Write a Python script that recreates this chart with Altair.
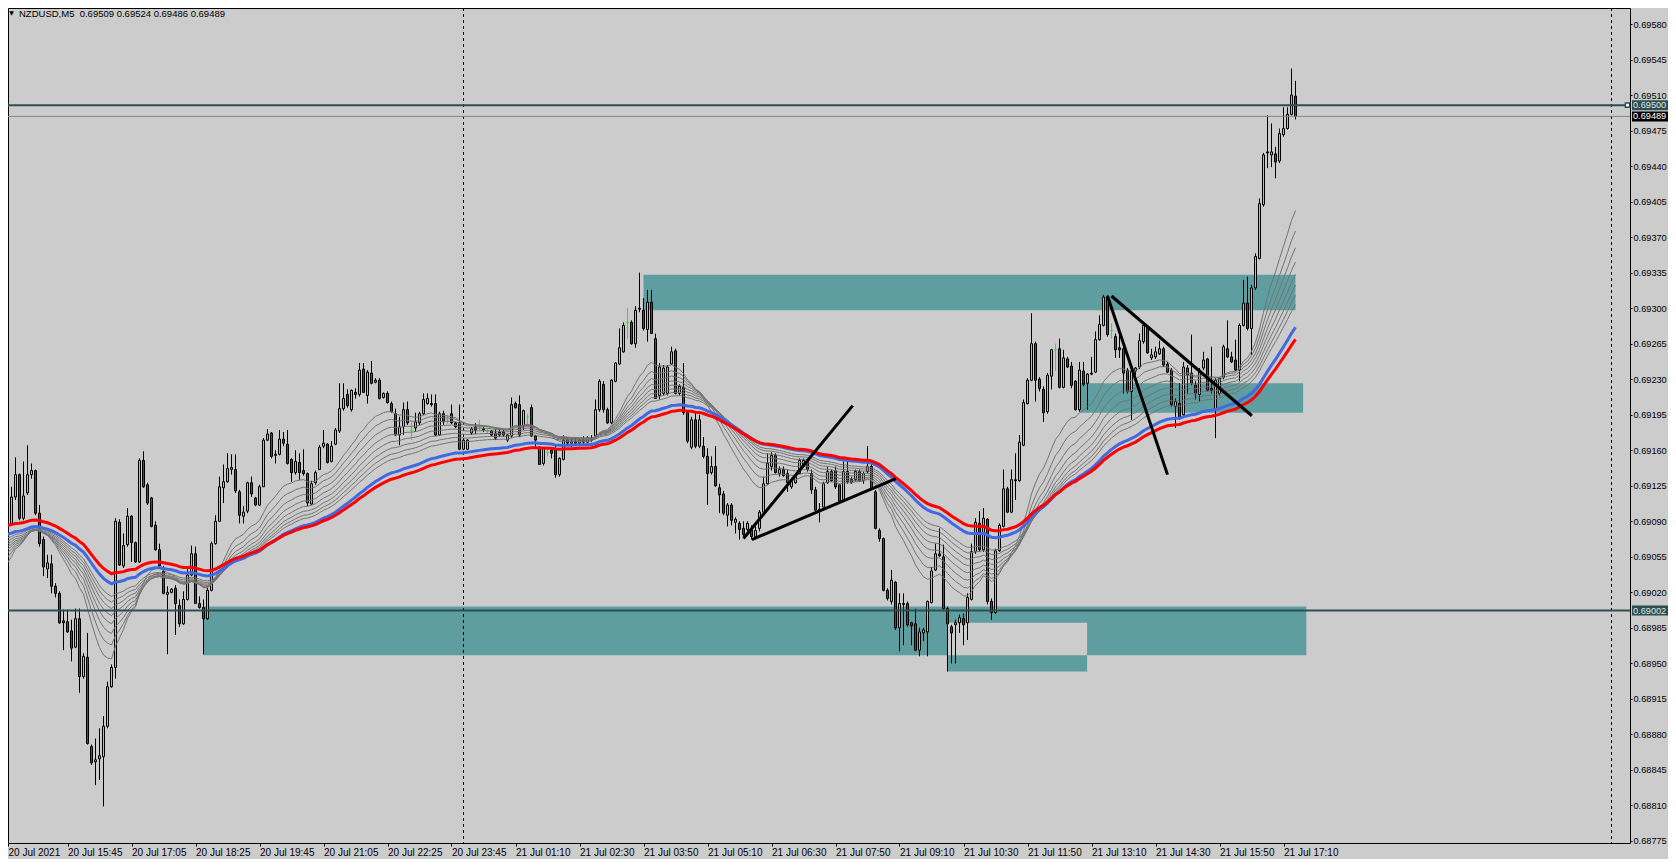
import json
import altair as alt
import pandas as pd

# ---------------- data ----------------
opens = [
0.69026,0.69055,0.69088,0.69114,0.69136,0.69093,0.69118,0.69136,0.69140,0.69098,
0.69072,0.69043,0.69048,0.69026,0.69019,0.68992,0.68991,0.68982,0.68966,0.68994,
0.68937,0.68956,0.68868,0.68853,0.68856,0.68858,0.68888,0.68927,0.68946,0.69089,
0.69046,0.69067,0.69095,0.69069,0.69050,0.69150,0.69126,0.69113,0.69086,0.69062,
0.69041,0.69018,0.69020,0.69024,0.69007,0.68989,0.69013,0.69037,0.69058,0.69009,
0.69005,0.68994,0.69022,0.69068,0.69090,0.69123,0.69129,0.69141,0.69141,0.69119,
0.69095,0.69100,0.69128,0.69113,0.69106,0.69124,0.69170,0.69177,0.69155,0.69156,
0.69171,0.69166,0.69151,0.69138,0.69148,0.69140,0.69137,0.69107,0.69128,0.69141,
0.69164,0.69166,0.69149,0.69166,0.69179,0.69201,0.69215,0.69200,0.69217,0.69215,
0.69240,0.69214,0.69236,0.69227,0.69229,0.69212,0.69216,0.69206,0.69196,0.69175,
0.69183,0.69200,0.69180,0.69182,0.69187,0.69196,0.69206,0.69206,0.69206,0.69175,
0.69196,0.69189,0.69196,0.69187,0.69187,0.69161,0.69161,0.69177,0.69183,0.69182,
0.69181,0.69179,0.69179,0.69177,0.69178,0.69178,0.69170,0.69174,0.69206,0.69205,
0.69184,0.69193,0.69202,0.69174,0.69163,0.69147,0.69158,0.69160,0.69161,0.69136,
0.69151,0.69171,0.69167,0.69169,0.69167,0.69170,0.69168,0.69172,0.69174,0.69200,
0.69225,0.69200,0.69187,0.69228,0.69245,0.69257,0.69286,0.69286,0.69265,0.69300,
0.69298,0.69279,0.69306,0.69270,0.69214,0.69216,0.69216,0.69245,0.69258,0.69216,
0.69222,0.69197,0.69163,0.69190,0.69164,0.69164,0.69154,0.69138,0.69144,0.69123,
0.69117,0.69096,0.69106,0.69089,0.69088,0.69083,0.69082,0.69082,0.69075,0.69083,
0.69099,0.69127,0.69144,0.69155,0.69137,0.69141,0.69137,0.69124,0.69128,0.69137,
0.69144,0.69149,0.69137,0.69121,0.69101,0.69104,0.69128,0.69139,0.69140,0.69126,
0.69111,0.69139,0.69131,0.69131,0.69139,0.69130,0.69139,0.69144,0.69119,0.69081,
0.69073,0.69022,0.69011,0.69030,0.68985,0.69009,0.69009,0.68990,0.68989,0.68963,
0.68980,0.68981,0.69010,0.69042,0.69058,0.69055,0.69004,0.68986,0.68988,0.68990,
0.68994,0.68990,0.69013,0.69060,0.69088,0.69062,0.69092,0.69011,0.69000,0.69061,
0.69085,0.69122,0.69099,0.69131,0.69130,0.69165,0.69206,0.69229,0.69265,0.69230,
0.69220,0.69198,0.69233,0.69259,0.69260,0.69222,0.69250,0.69243,0.69228,0.69200,
0.69238,0.69226,0.69236,0.69237,0.69269,0.69283,0.69311,0.69278,0.69272,0.69261,
0.69260,0.69239,0.69218,0.69238,0.69242,0.69267,0.69280,0.69251,0.69252,0.69255,
0.69260,0.69245,0.69239,0.69203,0.69206,0.69195,0.69241,0.69236,0.69224,0.69215,
0.69241,0.69250,0.69221,0.69200,0.69216,0.69232,0.69260,0.69252,0.69249,0.69239,
0.69283,0.69305,0.69280,0.69320,0.69349,0.69402,0.69454,0.69451,0.69452,0.69445,
0.69471,0.69477,0.69491,0.69509]

highs = [
0.69054,0.69095,0.69124,0.69153,0.69137,0.69149,0.69165,0.69147,0.69141,0.69106,
0.69075,0.69057,0.69057,0.69029,0.69021,0.69003,0.69003,0.68993,0.69004,0.69004,
0.68960,0.68980,0.68870,0.68876,0.68886,0.68898,0.68932,0.68949,0.69093,0.69092,
0.69078,0.69103,0.69096,0.69070,0.69152,0.69159,0.69128,0.69114,0.69090,0.69068,
0.69046,0.69026,0.69024,0.69027,0.69013,0.69021,0.69045,0.69066,0.69065,0.69016,
0.69013,0.69026,0.69070,0.69096,0.69134,0.69146,0.69157,0.69156,0.69156,0.69121,
0.69105,0.69129,0.69134,0.69114,0.69126,0.69172,0.69181,0.69178,0.69160,0.69180,
0.69178,0.69180,0.69152,0.69160,0.69157,0.69161,0.69138,0.69130,0.69140,0.69165,
0.69180,0.69167,0.69169,0.69182,0.69226,0.69226,0.69220,0.69220,0.69221,0.69246,
0.69246,0.69239,0.69248,0.69231,0.69231,0.69217,0.69218,0.69208,0.69201,0.69193,
0.69207,0.69208,0.69188,0.69197,0.69198,0.69216,0.69216,0.69215,0.69215,0.69198,
0.69199,0.69195,0.69205,0.69188,0.69205,0.69172,0.69171,0.69183,0.69187,0.69190,
0.69183,0.69181,0.69180,0.69181,0.69182,0.69180,0.69176,0.69212,0.69208,0.69214,
0.69200,0.69196,0.69205,0.69175,0.69164,0.69163,0.69160,0.69163,0.69165,0.69153,
0.69175,0.69173,0.69172,0.69173,0.69172,0.69174,0.69174,0.69175,0.69210,0.69230,
0.69228,0.69202,0.69230,0.69247,0.69280,0.69286,0.69300,0.69288,0.69302,0.69335,
0.69310,0.69318,0.69318,0.69275,0.69246,0.69244,0.69244,0.69262,0.69260,0.69225,
0.69246,0.69198,0.69193,0.69197,0.69195,0.69173,0.69162,0.69154,0.69164,0.69127,
0.69120,0.69108,0.69108,0.69094,0.69090,0.69090,0.69090,0.69086,0.69085,0.69101,
0.69134,0.69157,0.69158,0.69157,0.69144,0.69144,0.69141,0.69133,0.69137,0.69152,
0.69152,0.69152,0.69141,0.69124,0.69108,0.69129,0.69144,0.69141,0.69144,0.69127,
0.69149,0.69149,0.69134,0.69141,0.69141,0.69139,0.69164,0.69147,0.69121,0.69083,
0.69074,0.69024,0.69042,0.69031,0.69019,0.69019,0.69011,0.68991,0.69004,0.68985,
0.68985,0.69012,0.69045,0.69068,0.69083,0.69067,0.69006,0.68988,0.68993,0.68998,
0.68999,0.69019,0.69068,0.69093,0.69100,0.69103,0.69093,0.69014,0.69063,0.69088,
0.69141,0.69124,0.69141,0.69157,0.69175,0.69210,0.69231,0.69295,0.69267,0.69232,
0.69223,0.69236,0.69260,0.69265,0.69270,0.69259,0.69252,0.69247,0.69229,0.69247,
0.69247,0.69236,0.69252,0.69277,0.69293,0.69313,0.69313,0.69285,0.69275,0.69275,
0.69262,0.69241,0.69241,0.69242,0.69275,0.69285,0.69283,0.69260,0.69262,0.69268,
0.69262,0.69247,0.69241,0.69211,0.69226,0.69247,0.69244,0.69274,0.69228,0.69241,
0.69257,0.69251,0.69262,0.69231,0.69232,0.69264,0.69288,0.69257,0.69269,0.69285,
0.69328,0.69331,0.69323,0.69354,0.69408,0.69453,0.69490,0.69482,0.69459,0.69477,
0.69498,0.69498,0.69536,0.69524]

lows = [
0.69016,0.69052,0.69087,0.69111,0.69091,0.69091,0.69116,0.69132,0.69096,0.69065,
0.69036,0.69034,0.69019,0.69015,0.68989,0.68963,0.68980,0.68952,0.68965,0.68921,
0.68935,0.68870,0.68850,0.68830,0.68835,0.68809,0.68886,0.68926,0.68935,0.69046,
0.69044,0.69065,0.69050,0.69049,0.69049,0.69123,0.69106,0.69084,0.69061,0.69044,
0.69018,0.68959,0.69019,0.68978,0.68986,0.68988,0.69012,0.69036,0.69009,0.69004,
0.68959,0.68993,0.69021,0.69067,0.69090,0.69108,0.69128,0.69136,0.69118,0.69088,
0.69088,0.69098,0.69114,0.69105,0.69105,0.69124,0.69169,0.69152,0.69147,0.69155,
0.69164,0.69146,0.69129,0.69136,0.69131,0.69135,0.69105,0.69106,0.69126,0.69141,
0.69162,0.69147,0.69148,0.69165,0.69177,0.69199,0.69202,0.69198,0.69211,0.69213,
0.69217,0.69206,0.69225,0.69226,0.69210,0.69211,0.69206,0.69197,0.69174,0.69165,
0.69175,0.69185,0.69170,0.69178,0.69185,0.69195,0.69205,0.69203,0.69174,0.69174,
0.69185,0.69186,0.69186,0.69182,0.69160,0.69160,0.69160,0.69175,0.69176,0.69179,
0.69178,0.69176,0.69174,0.69170,0.69173,0.69173,0.69168,0.69172,0.69201,0.69173,
0.69180,0.69183,0.69173,0.69162,0.69146,0.69145,0.69154,0.69152,0.69133,0.69134,
0.69150,0.69165,0.69163,0.69165,0.69164,0.69166,0.69167,0.69168,0.69172,0.69198,
0.69197,0.69186,0.69186,0.69227,0.69244,0.69256,0.69270,0.69264,0.69261,0.69296,
0.69278,0.69267,0.69275,0.69211,0.69210,0.69214,0.69214,0.69244,0.69215,0.69214,
0.69195,0.69167,0.69161,0.69162,0.69162,0.69152,0.69106,0.69136,0.69124,0.69098,
0.69096,0.69085,0.69086,0.69078,0.69072,0.69075,0.69080,0.69072,0.69073,0.69080,
0.69097,0.69126,0.69140,0.69137,0.69134,0.69134,0.69119,0.69122,0.69127,0.69137,
0.69143,0.69139,0.69117,0.69100,0.69089,0.69104,0.69127,0.69129,0.69122,0.69109,
0.69110,0.69127,0.69127,0.69129,0.69129,0.69127,0.69137,0.69121,0.69082,0.69070,
0.69021,0.69012,0.69008,0.68983,0.68962,0.68968,0.68986,0.68968,0.68962,0.68957,
0.68972,0.68957,0.69009,0.69041,0.69055,0.69003,0.68942,0.68950,0.68950,0.68980,
0.68968,0.68973,0.69012,0.69058,0.69060,0.69060,0.69008,0.68993,0.68999,0.69060,
0.69084,0.69098,0.69098,0.69111,0.69129,0.69164,0.69205,0.69228,0.69208,0.69218,
0.69188,0.69196,0.69220,0.69238,0.69221,0.69221,0.69241,0.69221,0.69199,0.69198,
0.69223,0.69200,0.69234,0.69236,0.69268,0.69282,0.69272,0.69270,0.69251,0.69251,
0.69216,0.69216,0.69190,0.69234,0.69240,0.69265,0.69255,0.69249,0.69250,0.69254,
0.69242,0.69236,0.69203,0.69182,0.69190,0.69193,0.69216,0.69224,0.69210,0.69208,
0.69239,0.69218,0.69216,0.69172,0.69214,0.69230,0.69251,0.69246,0.69238,0.69228,
0.69282,0.69278,0.69254,0.69318,0.69348,0.69400,0.69438,0.69439,0.69428,0.69443,
0.69469,0.69476,0.69490,0.69486]

closes = [
0.69052,0.69087,0.69114,0.69136,0.69093,0.69115,0.69136,0.69140,0.69098,0.69068,
0.69045,0.69049,0.69026,0.69019,0.68990,0.68990,0.68981,0.68965,0.68994,0.68937,
0.68957,0.68871,0.68852,0.68855,0.68859,0.68888,0.68927,0.68946,0.69090,0.69047,
0.69066,0.69095,0.69069,0.69050,0.69150,0.69124,0.69108,0.69085,0.69062,0.69046,
0.69019,0.69020,0.69023,0.69009,0.68989,0.69013,0.69037,0.69058,0.69009,0.69005,
0.68994,0.69022,0.69068,0.69090,0.69124,0.69129,0.69142,0.69143,0.69120,0.69096,
0.69099,0.69128,0.69117,0.69106,0.69124,0.69170,0.69176,0.69154,0.69156,0.69171,
0.69167,0.69147,0.69138,0.69149,0.69138,0.69137,0.69108,0.69127,0.69138,0.69163,
0.69167,0.69148,0.69164,0.69180,0.69201,0.69211,0.69204,0.69219,0.69215,0.69239,
0.69217,0.69237,0.69226,0.69229,0.69211,0.69216,0.69207,0.69198,0.69175,0.69183,
0.69200,0.69187,0.69180,0.69188,0.69196,0.69210,0.69211,0.69205,0.69175,0.69196,
0.69188,0.69189,0.69187,0.69183,0.69161,0.69170,0.69170,0.69181,0.69180,0.69182,
0.69180,0.69179,0.69175,0.69172,0.69175,0.69175,0.69175,0.69205,0.69202,0.69175,
0.69199,0.69193,0.69174,0.69170,0.69146,0.69162,0.69158,0.69157,0.69136,0.69152,
0.69170,0.69167,0.69169,0.69167,0.69170,0.69168,0.69172,0.69170,0.69200,0.69228,
0.69200,0.69187,0.69229,0.69246,0.69261,0.69283,0.69286,0.69265,0.69298,0.69299,
0.69280,0.69306,0.69275,0.69211,0.69242,0.69241,0.69242,0.69257,0.69216,0.69223,
0.69197,0.69169,0.69190,0.69164,0.69190,0.69154,0.69137,0.69144,0.69125,0.69116,
0.69098,0.69106,0.69091,0.69092,0.69082,0.69077,0.69088,0.69075,0.69081,0.69099,
0.69127,0.69147,0.69155,0.69138,0.69141,0.69135,0.69128,0.69129,0.69134,0.69150,
0.69150,0.69141,0.69121,0.69101,0.69102,0.69127,0.69139,0.69130,0.69124,0.69110,
0.69139,0.69129,0.69128,0.69139,0.69130,0.69137,0.69144,0.69122,0.69083,0.69073,
0.69022,0.69014,0.69032,0.68985,0.69009,0.69008,0.68988,0.68987,0.68963,0.68981,
0.68983,0.69011,0.69041,0.69058,0.69056,0.69004,0.68989,0.68980,0.68990,0.68995,
0.68988,0.69015,0.69060,0.69089,0.69062,0.69093,0.69011,0.69000,0.69061,0.69086,
0.69122,0.69099,0.69131,0.69130,0.69168,0.69207,0.69229,0.69265,0.69229,0.69221,
0.69197,0.69234,0.69259,0.69259,0.69222,0.69251,0.69242,0.69224,0.69200,0.69239,
0.69225,0.69235,0.69235,0.69269,0.69284,0.69311,0.69274,0.69278,0.69259,0.69259,
0.69236,0.69218,0.69238,0.69241,0.69268,0.69283,0.69256,0.69254,0.69257,0.69260,
0.69244,0.69237,0.69205,0.69208,0.69193,0.69242,0.69234,0.69226,0.69216,0.69239,
0.69249,0.69219,0.69219,0.69229,0.69231,0.69262,0.69252,0.69247,0.69239,0.69283,
0.69305,0.69280,0.69320,0.69351,0.69403,0.69451,0.69453,0.69454,0.69444,0.69472,
0.69477,0.69491,0.69510,0.69489]

# x axis: bar index of each label (one bar = 5 minutes, labels every 16 bars)
x_tick_bars = [1.125, 16, 32, 48, 64, 80, 96, 112, 128, 144, 160, 176, 192, 208,
               224, 240, 256, 272, 288, 304, 320]
x_tick_labels = ["20 Jul 2021", "20 Jul 15:45", "20 Jul 17:05", "20 Jul 18:25",
                 "20 Jul 19:45", "20 Jul 21:05", "20 Jul 22:25", "20 Jul 23:45",
                 "21 Jul 01:10", "21 Jul 02:30", "21 Jul 03:50", "21 Jul 05:10",
                 "21 Jul 06:30", "21 Jul 07:50", "21 Jul 09:10", "21 Jul 10:30",
                 "21 Jul 11:50", "21 Jul 13:10", "21 Jul 14:30", "21 Jul 15:50",
                 "21 Jul 17:10"]
y_tick_values = [0.68775, 0.68810, 0.68845, 0.68880, 0.68915, 0.68950, 0.68985,
                 0.69020, 0.69055, 0.69090, 0.69125, 0.69160, 0.69195, 0.69230,
                 0.69265, 0.69300, 0.69335, 0.69370, 0.69405, 0.69440, 0.69475,
                 0.69510, 0.69545, 0.69580]

# moving averages (EMA of closes) and their values at the first visible bar
thin_periods = [20, 25, 30, 35, 40, 45, 50, 55]
thin_seeds = [0.69045, 0.69052, 0.69057, 0.69061, 0.69064, 0.69067, 0.69070, 0.69073]
blue_period, blue_seed = 70, 0.69077
red_period, red_seed = 80, 0.69086

# rectangles drawn on the chart (bar index range, price range)
box_bar_start = [50.0, 235.9, 160.0, 269.2]
box_bar_end = [325.7, 270.9, 323.0, 324.9]
box_price_low = [0.68958, 0.68942, 0.69298, 0.69197]
box_price_high = [0.69006, 0.68990, 0.69333, 0.69226]
# overlap of the two lower rectangles (shown in background colour)
gap_bar_start, gap_bar_end, gap_low, gap_high = 235.9, 270.9, 0.68958, 0.68990

# trend lines: id, bar, price
trend_id = ["a", "a", "b", "b", "c", "c", "d", "d"]
trend_bar = [185.0, 212.3, 187.1, 223.1, 277.0, 312.1, 276.0, 291.0]
trend_price = [0.69073, 0.69204, 0.69072, 0.69132, 0.69312, 0.69194, 0.69312, 0.69136]

hline_prices = [0.69500, 0.69002]
bid_price = 0.69489
separator_bars = [115, 402]
handle_bars = [0.5, 406.0]

line_tag_prices = [0.69500, 0.69002]
line_tag_texts = ["0.69500", "0.69002"]
bid_tag_texts = ["0.69489"]

title_text = "NZDUSD,M5\u00a0\u00a00.69509 0.69524 0.69486 0.69489"

# ---------------- build ----------------
n = len(closes)
assert len(opens) == n and len(highs) == n and len(lows) == n

BG = "#CCCCCC"
FONT = "Liberation Sans"
DSG = "#2F4F4F"

def direction(o, c):
    if abs(o - c) < 1e-9:
        return "doji"
    return "up" if c > o else "down"

candles = pd.DataFrame({
    "i": list(range(n)), "o": opens, "h": highs, "l": lows, "c": closes})
candles["h"] = candles[["h", "o", "c"]].max(axis=1)
candles["l"] = candles[["l", "o", "c"]].min(axis=1)
candles["top"] = candles[["o", "c"]].max(axis=1)
candles["bot"] = candles[["o", "c"]].min(axis=1)
candles["xl"] = candles["i"] - 0.25
candles["xr"] = candles["i"] + 0.25
candles["dir"] = [direction(o, c) for o, c in zip(opens, closes)]

def ema(period, seed):
    a = 2.0 / (period + 1)
    out = [seed]
    for c in closes[1:]:
        out.append(out[-1] + a * (c - out[-1]))
    return out

thin_rows = []
for p, s in zip(thin_periods, thin_seeds):
    for i, v in enumerate(ema(p, s)):
        thin_rows.append({"i": i, "v": v, "name": f"ema{p}"})
thin_df = pd.DataFrame(thin_rows)
blue_df = pd.DataFrame({"i": list(range(n)), "v": ema(blue_period, blue_seed)})
red_df = pd.DataFrame({"i": list(range(n)), "v": ema(red_period, red_seed)})

boxes = pd.DataFrame({"x1": box_bar_start, "x2": box_bar_end,
                      "y1": box_price_low, "y2": box_price_high})
gap = pd.DataFrame({"x1": [gap_bar_start], "x2": [gap_bar_end],
                    "y1": [gap_low], "y2": [gap_high]})
trends = pd.DataFrame({"id": trend_id, "i": trend_bar, "p": trend_price})
hlines = pd.DataFrame({"p": hline_prices})
bidline = pd.DataFrame({"p": [bid_price]})
seps = pd.DataFrame({"i": separator_bars})
handles = pd.DataFrame({"i": handle_bars, "p": [hline_prices[0]] * len(handle_bars)})

tag_half = 0.0000493
line_tags = pd.DataFrame({"p": line_tag_prices, "t": line_tag_texts})
bid_tags = pd.DataFrame({"p": [bid_price], "t": bid_tag_texts})
for df in (line_tags, bid_tags):
    df["p1"] = df["p"] - tag_half
    df["p2"] = df["p"] + tag_half

label_expr = ("datum.value < 8 ? " + json.dumps(x_tick_labels[0]) + " : "
              + json.dumps(x_tick_labels[1:]) + "[round(datum.value / 16) - 1]")

PLOT_W, PLOT_H = 1622, 835
RIGHT_PAD = 38
xs = alt.Scale(domain=[1.125, 1.125 + PLOT_W / 4.0], nice=False, zero=False)
ys = alt.Scale(domain=[0.687730, 0.695958], nice=False, zero=False)
xaxis = alt.Axis(values=x_tick_bars, labelExpr=label_expr, title="", grid=False,
                 domain=False, ticks=True, tickSize=3, tickColor="black",
                 labelFont=FONT, labelFontSize=10, labelColor="black",
                 labelAlign="left", labelBaseline="top", labelPadding=1,
                 labelOverlap=False, labelFlush=False)
yaxis = alt.Axis(orient="right", values=y_tick_values, format=".5f", title="",
                 grid=False, domain=False, tickSize=2, tickColor="black",
                 labelFont=FONT, labelFontSize=9.2, labelColor="black",
                 labelPadding=1, labelBaseline="middle", labelOverlap=False,
                 labelFlush=False)

def X(f):
    return alt.X(f, type="quantitative", scale=xs, axis=xaxis)

def Y(f):
    return alt.Y(f, type="quantitative", scale=ys, axis=yaxis)

box_layer = alt.Chart(boxes).mark_rect(color="#5F9EA0", clip=True).encode(
    x=X("x1"), x2="x2", y=Y("y1"), y2="y2")
gap_layer = alt.Chart(gap).mark_rect(color=BG, clip=True).encode(
    x=X("x1"), x2="x2", y=Y("y1"), y2="y2")

sep_layer = alt.Chart(seps).mark_rule(color="black", strokeWidth=1,
                                      strokeDash=[3, 3]).encode(x=X("i"))

dir_dom = ["up", "down", "doji"]
stroke_scale = alt.Scale(domain=dir_dom, range=["black", "black", "#00FF00"])
fill_scale = alt.Scale(domain=dir_dom, range=["#7CFC00", "#FF0000", "#00FF00"])

wick_layer = alt.Chart(candles).mark_rule(strokeWidth=1, clip=True).encode(
    x=X("i"), y=Y("l"), y2="h",
    stroke=alt.Stroke("dir:N", scale=stroke_scale, legend=None))
body_layer = alt.Chart(candles).mark_rect(strokeWidth=1, clip=True).encode(
    x=X("xl"), x2="xr", y=Y("bot"), y2="top",
    fill=alt.Fill("dir:N", scale=fill_scale, legend=None),
    stroke=alt.Stroke("dir:N", scale=stroke_scale, legend=None))

thin_layer = alt.Chart(thin_df).mark_line(color="#737373", strokeWidth=1,
                                          clip=True).encode(
    x=X("i"), y=Y("v"), detail="name:N")
blue_layer = alt.Chart(blue_df).mark_line(color="#4169E1", strokeWidth=3,
                                          clip=True).encode(x=X("i"), y=Y("v"))
red_layer = alt.Chart(red_df).mark_line(color="#FF0000", strokeWidth=3,
                                        clip=True).encode(x=X("i"), y=Y("v"))

hline_layer = alt.Chart(hlines).mark_rule(color=DSG, strokeWidth=2).encode(y=Y("p"))
bid_layer = alt.Chart(bidline).mark_rule(color="#778899", strokeWidth=1).encode(y=Y("p"))

trend_layer = alt.Chart(trends).mark_line(color="black", strokeWidth=3,
                                          clip=True).encode(
    x=X("i"), y=Y("p"), detail="id:N")

handle_layer = alt.Chart(handles).mark_point(shape="square", filled=True,
                                             fill="white", stroke=DSG,
                                             strokeWidth=1.5, size=18,
                                             opacity=1).encode(x=X("i"), y=Y("p"))

line_tag_rect = alt.Chart(line_tags).mark_rect(color=DSG).encode(
    x=alt.value(PLOT_W + 2), x2=alt.value(PLOT_W + RIGHT_PAD), y=Y("p1"), y2="p2")
line_tag_text = alt.Chart(line_tags).mark_text(
    align="left", baseline="middle", font=FONT, fontSize=9.2,
    color="#D8E8F0").encode(x=alt.value(PLOT_W + 3), y=Y("p"), text="t:N")
bid_tag_rect = alt.Chart(bid_tags).mark_rect(color="#000000").encode(
    x=alt.value(PLOT_W + 2), x2=alt.value(PLOT_W + RIGHT_PAD), y=Y("p1"), y2="p2")
bid_tag_text = alt.Chart(bid_tags).mark_text(
    align="left", baseline="middle", font=FONT, fontSize=9.2,
    color="#FFFFFF").encode(x=alt.value(PLOT_W + 3), y=Y("p"), text="t:N")

title_df = pd.DataFrame({"t": [title_text]})
tri_layer = alt.Chart(title_df).mark_text(text="\u25bc", font="DejaVu Sans",
                                          fontSize=6, align="center",
                                          baseline="middle", color="black").encode(
    x=alt.value(3.5), y=alt.value(5))
title_layer = alt.Chart(title_df).mark_text(font=FONT, fontSize=9.5, align="left",
                                            baseline="middle", color="black").encode(
    x=alt.value(11), y=alt.value(5.5), text="t:N")

chart = alt.layer(
    box_layer, gap_layer, sep_layer, wick_layer, body_layer,
    thin_layer, blue_layer, red_layer, hline_layer, bid_layer,
    trend_layer, handle_layer, line_tag_rect, line_tag_text,
    bid_tag_rect, bid_tag_text, tri_layer, title_layer
).properties(
    width=PLOT_W, height=PLOT_H,
    padding={"left": 0, "top": 0, "right": RIGHT_PAD, "bottom": 16},
    autosize=alt.AutoSizeParams(type="none"),
    background=BG,
).configure_view(stroke="black", strokeWidth=1)

chart.save("out.html", embed_options={"renderer": "svg", "actions": False})
